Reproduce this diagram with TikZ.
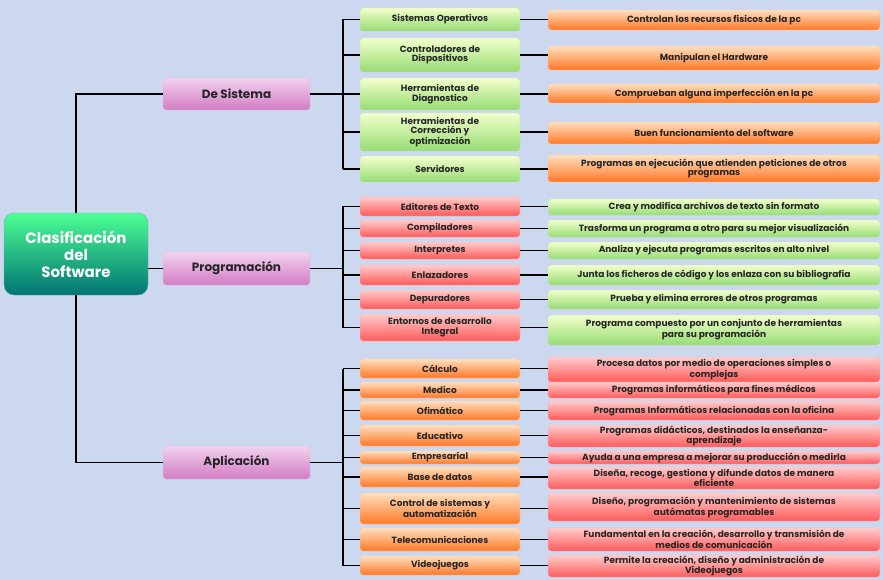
\documentclass[tikz,border=0pt]{standalone}
\usepackage{fontspec}
\setmainfont{Poppins}
\definecolor{bg}{HTML}{CCD8F0}
\definecolor{pk1}{HTML}{F2D2EE}
\definecolor{pk2}{HTML}{D27CC4}
\tikzset{
 bx/.style={rounded corners=3pt,inner sep=0pt,align=center,font=\fontsize{9}{9.4}\selectfont\bfseries,text=black!85},
 grn/.style={bx,top color=green!25!yellow!20!white,bottom color=green!50!olive!55!white,draw=green!40!gray!40},
 org/.style={bx,top color=orange!25!white,bottom color=orange!75!red!85!white,draw=orange!40},
 red/.style={bx,top color=red!20!white,bottom color=red!65!white,draw=red!30},
 pnk/.style={bx,top color=pk1,bottom color=pk2,draw=pk2!50,font=\fontsize{12}{13}\selectfont\bfseries},
 ln/.style={line width=1.6pt,black}
}
\newcommand\itm[7]{\node[#2,minimum width={(#4-#3)*1pt},minimum height={(#6-#5)*1pt}] (#1) at ({(#3+#4)/2},{(#5+#6)/2}) {#7};}
\begin{document}
\begin{tikzpicture}[x=1pt,y=-1pt]
\fill[bg] (0,0) rectangle (883,580);
\useasboundingbox (0,0) rectangle (883,580);
% root
\node[rounded corners=10pt,top color=green!60!cyan!70!white,bottom color=teal!90!black,draw=teal!60,minimum width=144pt,minimum height=82pt,align=center,text=white,font=\fontsize{15}{17}\selectfont\bfseries] (root) at (76,254) {Clasificación\\del\\Software};
\itm{s}{pnk}{163}{310}{78}{110}{De Sistema}
\itm{p}{pnk}{163}{310}{252}{285}{Programación}
\itm{a}{pnk}{163}{310}{446}{479}{Aplicación}
\draw[ln] (root.north) |- (s.west);
\draw[ln] (root.south) |- (a.west);
\draw[ln] (root.east|-p.west) -- (p.west);
% sistema
\itm{s1}{grn}{360}{520}{8}{31}{Sistemas Operativos}
\itm{s2}{grn}{360}{520}{38}{72}{Controladores de\\Dispositivos}
\itm{s3}{grn}{360}{520}{78}{110}{Herramientas de\\Diagnostico}
\itm{s4}{grn}{360}{520}{113}{151}{Herramientas de\\Corrección y\\optimización}
\itm{s5}{grn}{360}{520}{156}{182}{Servidores}
\itm{t1}{org}{548}{880}{10}{30}{Controlan los recursos fisicos de la pc}
\itm{t2}{org}{548}{880}{46}{70}{Manipulan el Hardware}
\itm{t3}{org}{548}{880}{84}{103}{Comprueban alguna imperfección en la pc}
\itm{t4}{org}{548}{880}{122}{144}{Buen funcionamiento del software}
\itm{t5}{org}{548}{880}{155}{182}{Programas en ejecución que atienden peticiones de otros\\programas}
\coordinate (bs) at (343,0);
\draw[ln] (s.east) -- (bs|-s.east);
\draw[ln] (bs|-s1.west) -- (bs|-s5.west);
\foreach \i in {1,...,5}{\draw[ln] (bs|-s\i.west) -- (s\i.west); \draw[ln] (s\i.east) -- (t\i.west|-s\i.east);}
% programacion
\itm{p1}{red}{360}{520}{197}{216}{Editores de Texto}
\itm{p2}{red}{360}{520}{220}{237}{Compiladores}
\itm{p3}{red}{360}{520}{242}{259}{Interpretes}
\itm{p4}{red}{360}{520}{265}{285}{Enlazadores}
\itm{p5}{red}{360}{520}{290}{309}{Depuradores}
\itm{p6}{red}{360}{520}{314}{341}{Entornos de desarrollo\\Integral}
\itm{q1}{grn}{548}{880}{199}{215}{Crea y modifica archivos de texto sin formato}
\itm{q2}{grn}{548}{880}{220}{237}{Trasforma un programa a otro para su mejor visualización}
\itm{q3}{grn}{548}{880}{242}{259}{Analiza y ejecuta programas escritos en alto nivel}
\itm{q4}{grn}{548}{880}{265}{285}{Junta los ficheros de código y los enlaza con su bibliografía}
\itm{q5}{grn}{548}{880}{290}{309}{Prueba y elimina errores de otros programas}
\itm{q6}{grn}{548}{880}{315}{345}{Programa compuesto por un conjunto de herramientas\\para su programación}
\draw[ln] (p.east) -- (bs|-p.east);
\draw[ln] (bs|-p1.west) -- (bs|-p6.west);
\foreach \i in {1,...,6}{\draw[ln] (bs|-p\i.west) -- (p\i.west); \draw[ln] (p\i.east) -- (q\i.west|-p\i.east);}
% aplicacion
\itm{a1}{org}{360}{520}{359}{378}{Cálculo}
\itm{a2}{org}{360}{520}{382}{398}{Medico}
\itm{a3}{org}{360}{520}{401}{420}{Ofimático}
\itm{a4}{org}{360}{520}{425}{446}{Educativo}
\itm{a5}{org}{360}{520}{451}{464}{Empresarial}
\itm{a6}{org}{360}{520}{467}{487}{Base de datos}
\itm{a7}{org}{360}{520}{493}{524}{Control de sistemas y\\automatización}
\itm{a8}{org}{360}{520}{528}{551}{Telecomunicaciones}
\itm{a9}{org}{360}{520}{556}{575}{Videojuegos}
\itm{b1}{red}{548}{880}{357}{382}{Procesa datos por medio de operaciones simples o\\complejas}
\itm{b2}{red}{548}{880}{382}{398}{Programas informáticos para fines médicos}
\itm{b3}{red}{548}{880}{401}{420}{Programas Informáticos relacionadas con la oficina}
\itm{b4}{red}{548}{880}{425}{447}{Programas didácticos, destinados  la enseñanza-\\aprendizaje}
\itm{b5}{red}{548}{880}{451}{464}{Ayuda a una empresa a mejorar su producción o medirla}
\itm{b6}{red}{548}{880}{467}{489}{Diseña, recoge, gestiona y difunde datos de manera\\eficiente}
\itm{b7}{red}{548}{880}{493}{521}{Diseño, programación y mantenimiento de sistemas\\autómatas programables}
\itm{b8}{red}{548}{880}{528}{551}{Fundamental en la creación, desarrollo y transmisión de\\medios de comunicación}
\itm{b9}{red}{548}{880}{555}{577}{Permite la creación, diseño y administración de\\Videojuegos}
\draw[ln] (a.east) -- (bs|-a.east);
\draw[ln] (bs|-a1.west) -- (bs|-a9.west);
\foreach \i in {1,...,9}{\draw[ln] (bs|-a\i.west) -- (a\i.west); \draw[ln] (a\i.east) -- (b\i.west|-a\i.east);}
\end{tikzpicture}
\end{document}
